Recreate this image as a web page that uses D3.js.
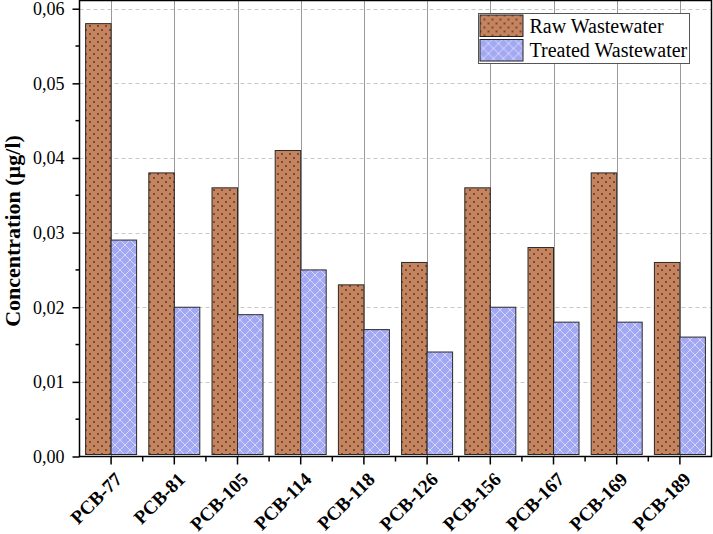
<!DOCTYPE html>
<html><head><meta charset="utf-8">
<script src="https://cdn.jsdelivr.net/npm/d3@7/dist/d3.min.js"></script>
<style>body{margin:0;background:#fff}svg{display:block}text{font-family:"Liberation Serif","Times New Roman",serif}</style>
</head><body><svg id="c" width="713" height="534"></svg>
<script>
const categories = ["PCB-77","PCB-81","PCB-105","PCB-114","PCB-118","PCB-126","PCB-156","PCB-167","PCB-169","PCB-189"];
const rawValues = [0.058,0.038,0.036,0.041,0.023,0.026,0.036,0.028,0.038,0.026];
const treatedValues = [0.029,0.020,0.019,0.025,0.017,0.014,0.020,0.018,0.018,0.016];
const seriesNames = ["Raw Wastewater","Treated Wastewater"];
const yTicks = [0,0.01,0.02,0.03,0.04,0.05,0.06];

const svg = d3.select("#c");
const L=79.5, R=711.5, T=0.5, B=456.5;
const x = d3.scaleBand().domain(categories).range([L,R]).paddingInner(0).paddingOuter(0);
const y = d3.scaleLinear().domain([0,0.0611]).range([B,T]);
const fmt = d => d3.format(".2f")(d).replace(".",",");

const defs = svg.append("defs");
const p1 = defs.append("pattern").attr("id","dots").attr("patternUnits","userSpaceOnUse").attr("width",8).attr("height",8);
p1.append("rect").attr("width",8).attr("height",8).attr("fill","#c4845f");
p1.append("circle").attr("cx",2).attr("cy",2).attr("r",0.9).attr("fill","#5a2e1a");
p1.append("circle").attr("cx",6).attr("cy",6).attr("r",0.9).attr("fill","#5a2e1a");
const p2 = defs.append("pattern").attr("id","hatch").attr("patternUnits","userSpaceOnUse").attr("width",10).attr("height",10);
p2.append("rect").attr("width",10).attr("height",10).attr("fill","#a3a8f3");
p2.append("path").attr("d","M0,0L10,10M10,0L0,10M-5,5L5,15M5,-5L15,5M5,15L15,5M-5,5L5,-5").attr("stroke","#d4d7fb").attr("stroke-width",1);

// grid
const g = svg.append("g");
g.selectAll(".hg").data(yTicks.filter(d=>d>0)).join("line")
  .attr("x1",L).attr("x2",R).attr("y1",d=>Math.round(y(d))+0.5).attr("y2",d=>Math.round(y(d))+0.5)
  .attr("stroke","#c8c8c8").attr("stroke-dasharray","4,3");
g.selectAll(".vg").data(categories).join("line")
  .attr("x1",d=>Math.round(x(d)+x.bandwidth()/2)+0.5).attr("x2",d=>Math.round(x(d)+x.bandwidth()/2)+0.5)
  .attr("y1",T).attr("y2",B).attr("stroke","#999").attr("stroke-width",1);

// bars
const bw = 25.5;
const bars = svg.append("g");
categories.forEach((c,i)=>{
  const cx = x(c)+x.bandwidth()/2;
  bars.append("rect").attr("x",cx-bw).attr("y",y(rawValues[i])).attr("width",bw).attr("height",B-2-y(rawValues[i]))
    .attr("fill","url(#dots)").attr("stroke","#2a2a2a").attr("stroke-width",1);
  bars.append("rect").attr("x",cx).attr("y",y(treatedValues[i])).attr("width",bw).attr("height",B-2-y(treatedValues[i]))
    .attr("fill","url(#hatch)").attr("stroke","#2a2a2a").attr("stroke-width",1);
});

// frame
svg.append("rect").attr("x",L).attr("y",T).attr("width",R-L).attr("height",B-T).attr("fill","none").attr("stroke","#000").attr("stroke-width",1.5);

// y axis
const yAx = svg.append("g").attr("transform",`translate(${L},0)`)
  .call(d3.axisLeft(y).tickValues(yTicks).tickFormat(fmt).tickSize(7).tickPadding(8));
yAx.select(".domain").remove();
yAx.attr("font-family",null);
yAx.selectAll("line").attr("stroke","#000").attr("stroke-width",1.5);
yAx.selectAll("text").attr("font-size",18).attr("fill","#000");
svg.append("g").selectAll("line").data(d3.range(0.005,0.06,0.01)).join("line")
  .attr("x1",L-4).attr("x2",L).attr("y1",d=>y(d)).attr("y2",d=>y(d)).attr("stroke","#000").attr("stroke-width",1.5);

// x axis
const xAx = svg.append("g").attr("transform",`translate(0,${B})`)
  .call(d3.axisBottom(x).tickSize(8).tickPadding(6));
xAx.select(".domain").remove();
xAx.attr("font-family",null);
xAx.selectAll("line").attr("stroke","#000").attr("stroke-width",1.5);
xAx.selectAll("text").attr("font-size",19).attr("font-weight","bold").attr("fill","#000")
  .attr("text-anchor","end").attr("x",0).attr("y",0).attr("dy",0).attr("transform","translate(12,24) rotate(-45)");
svg.append("g").selectAll("line").data(categories.slice(1)).join("line")
  .attr("x1",d=>x(d)).attr("x2",d=>x(d)).attr("y1",B).attr("y2",B+5).attr("stroke","#000").attr("stroke-width",1.5);

// y title
svg.append("text").attr("transform","translate(20,231) rotate(-90)").attr("text-anchor","middle")
  .attr("font-weight","bold").attr("font-size",22).text("Concentration (µg/l)");

// legend
const lg = svg.append("g").attr("transform","translate(478.5,13.5)");
lg.append("rect").attr("width",211).attr("height",50).attr("fill","#fff").attr("stroke","#555").attr("stroke-width",1);
const fills=["url(#dots)","url(#hatch)"];
seriesNames.forEach((n,i)=>{
  lg.append("rect").attr("x",1.5).attr("y",1.5+i*24.5).attr("width",43).attr("height",21.5).attr("fill",fills[i]).attr("stroke","#222");
  lg.append("text").attr("x",51).attr("y",19+i*24.5).attr("font-size",20).text(n);
});
</script></body></html>
